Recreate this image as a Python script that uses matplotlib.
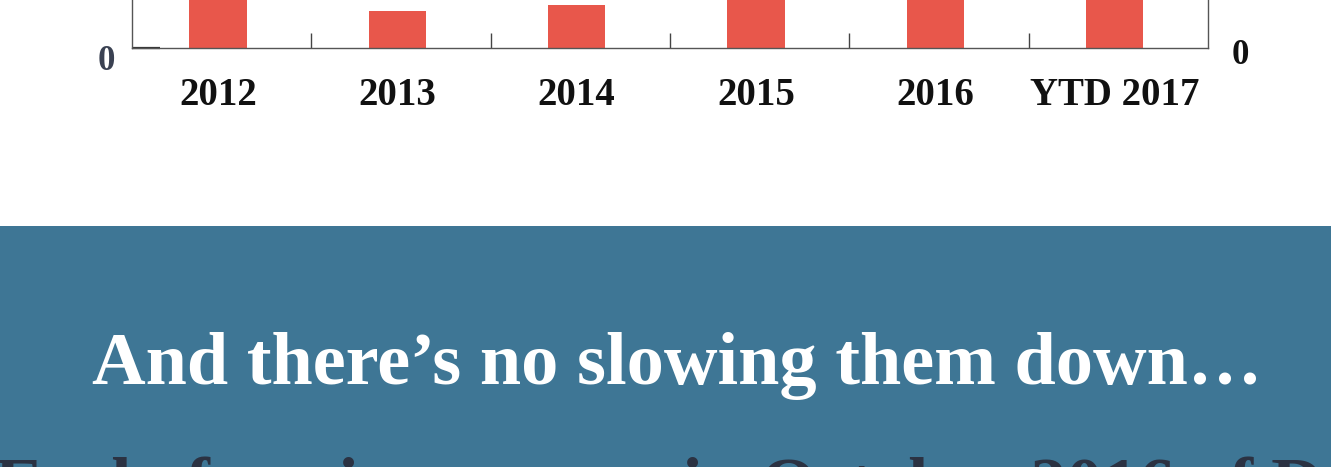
import matplotlib.pyplot as plt
import matplotlib.patches as mpatches
import matplotlib.transforms as mtransforms
import numpy as np

# data (chart is cropped at the top, taller bars run off the page)
years = ['2012', '2013', '2014', '2015', '2016', 'YTD 2017']
counts = [9, 5.3, 6.1, 12, 14, 11]

title = 'And there\u2019s no slowing them down\u2026'
subline = 'Early forming groups in October 2016 of Dark Web'

BAR = '#E8574B'
BAND = '#3E7695'
SERIF = ['Liberation Serif', 'DejaVu Serif']

fig = plt.figure(figsize=(13.31, 4.67), dpi=100)
fig.patch.set_facecolor('white')

# blue band in the lower half
band = mpatches.Rectangle((0, 0), 1, 241 / 467, transform=fig.transFigure,
                          facecolor=BAND, edgecolor='none', zorder=0)
fig.patches.append(band)

ax = fig.add_axes([132 / 1331, 419 / 467, 1076 / 1331, 0.6])
x = np.arange(len(years))
ax.bar(x - 0.02, counts, width=0.32, color=BAR, zorder=2)
ax.set_xlim(-0.5, len(years) - 0.5)
ax.set_ylim(0, 40)
ax.set_facecolor('none')

for s in ['left', 'bottom', 'right']:
    ax.spines[s].set_color('#555555')
    ax.spines[s].set_linewidth(1.0)
ax.spines['top'].set_visible(False)

# category ticks sit between the bars
ax.set_xticks(x[:-1] + 0.5)
ax.set_xticklabels([])
ax.tick_params(axis='x', which='major', direction='in', length=11,
               width=1.0, color='#444444')
ax.set_xticks(x - 0.02, minor=True)
ax.set_xticklabels(years, minor=True, fontsize=28, fontweight='bold',
                   family=SERIF, color='#111111')
ax.tick_params(axis='x', which='minor', length=0, pad=21)

ax.set_yticks([0])
ax.set_yticklabels(['0'], fontsize=25, fontweight='bold', family=SERIF,
                   color='#3a4152')
ax.tick_params(axis='y', direction='in', length=20, width=1.6,
               color='#333333', pad=12)
off = mtransforms.ScaledTranslation(0, -9 / 100, fig.dpi_scale_trans)
for lab in ax.get_yticklabels():
    lab.set_transform(lab.get_transform() + off)

ax2 = ax.twinx()
ax2.set_ylim(0, 40)
ax2.set_yticks([0])
ax2.set_yticklabels(['0'], fontsize=25, fontweight='bold', family=SERIF,
                    color='#111111')
ax2.tick_params(axis='y', direction='in', length=0, pad=17)
off2 = mtransforms.ScaledTranslation(0, -3 / 100, fig.dpi_scale_trans)
for lab in ax2.get_yticklabels():
    lab.set_transform(lab.get_transform() + off2)
for s in ax2.spines.values():
    s.set_visible(False)

fig.text(0.509, 83 / 467, title, ha='center', va='baseline',
         fontsize=53.5, fontweight='bold', family=SERIF, color='white')
# second heading line, only its upper edge shows in the crop
fig.text(-0.004, -40 / 467, subline, ha='left', va='baseline',
         fontsize=52, fontweight='bold', family=SERIF, color='#2b3242')

fig.savefig('out.png', dpi=100)
